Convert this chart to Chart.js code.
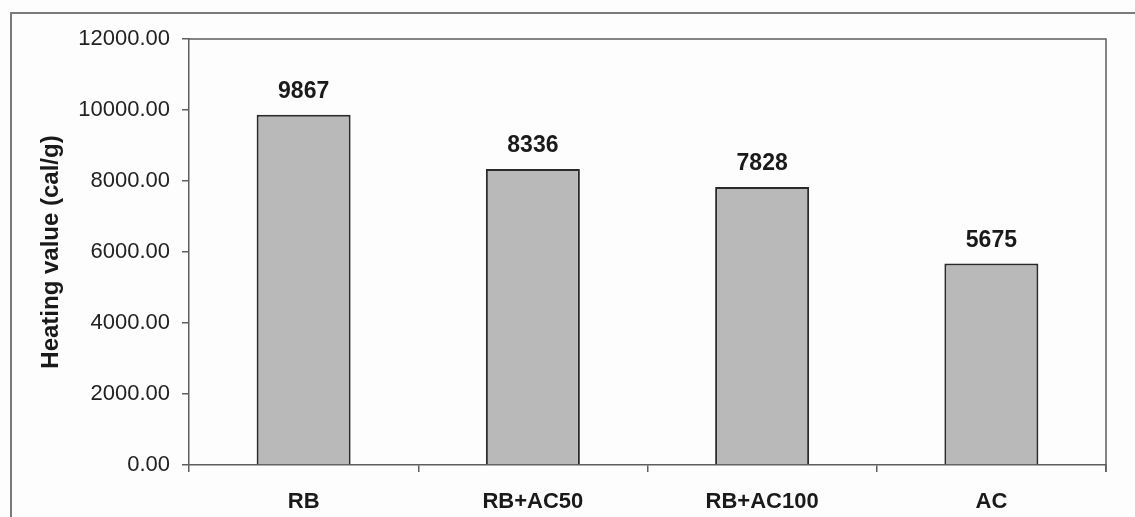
<!DOCTYPE html>
<html>
<head>
<meta charset="utf-8">
<script src="https://cdn.jsdelivr.net/npm/chart.js@4.4.1/dist/chart.umd.min.js"></script>
<style>
  html, body { margin: 0; padding: 0; background: #fdfdfd; }
  #wrap { width: 1135px; height: 517px; position: relative; }
</style>
</head>
<body>
<div id="wrap"><canvas id="c" width="1135" height="517"></canvas></div>
<script>
// Heating value of each sample (cal/g)
const categories = ['RB', 'RB+AC50', 'RB+AC100', 'AC'];
const heatingValues = [9867, 8336, 7828, 5675];
const yTicks = [0, 2000, 4000, 6000, 8000, 10000, 12000];
const yTitle = 'Heating value (cal/g)';

const FONT = '"Liberation Sans", Arial, sans-serif';

// Outer frame and the box around the plot area
const framePlugin = {
  id: 'frames',
  beforeDraw(chart) {
    const ctx = chart.ctx;
    ctx.save();
    ctx.fillStyle = '#fdfdfd';
    ctx.fillRect(0, 0, chart.width, chart.height);
    ctx.strokeStyle = '#7a7a7a';
    ctx.lineWidth = 2;
    ctx.beginPath();
    ctx.moveTo(11, chart.height + 2);
    ctx.lineTo(11, 13);
    ctx.lineTo(chart.width + 2, 13);
    ctx.stroke();
    ctx.restore();
  },
  afterDraw(chart) {
    const a = chart.chartArea;
    const ctx = chart.ctx;
    ctx.save();
    ctx.strokeStyle = '#5e5e5e';
    ctx.lineWidth = 1.5;
    ctx.beginPath();
    ctx.moveTo(a.left, a.top);
    ctx.lineTo(a.right, a.top);
    ctx.lineTo(a.right, a.bottom + 7);
    ctx.stroke();
    ctx.restore();
  }
};

// Value labels above each bar
const valueLabelPlugin = {
  id: 'valueLabels',
  afterDatasetsDraw(chart) {
    const ctx = chart.ctx;
    const meta = chart.getDatasetMeta(0);
    ctx.save();
    ctx.font = 'bold 23px ' + FONT;
    ctx.fillStyle = '#1a1a1a';
    ctx.textAlign = 'center';
    ctx.textBaseline = 'alphabetic';
    meta.data.forEach((bar, i) => {
      ctx.fillText(String(heatingValues[i]), bar.x, bar.y - 17);
    });
    ctx.restore();
  }
};

new Chart(document.getElementById('c'), {
  type: 'bar',
  data: {
    labels: categories,
    datasets: [{
      data: heatingValues,
      backgroundColor: '#b9b9b9',
      borderColor: '#2a2a2a',
      borderWidth: 2,
      borderSkipped: 'bottom',
      categoryPercentage: 1.0,
      barPercentage: 0.41
    }]
  },
  options: {
    responsive: false,
    animation: false,
    devicePixelRatio: 1,
    layout: { padding: { left: 0, top: 39, right: 29, bottom: 0 } },
    plugins: {
      legend: { display: false },
      tooltip: { enabled: false }
    },
    scales: {
      x: {
        grid: {
          display: true,
          drawOnChartArea: false,
          drawTicks: true,
          tickLength: 7,
          color: '#5e5e5e',
          lineWidth: 1.5
        },
        border: { display: true, color: '#5e5e5e', width: 1.5 },
        ticks: {
          color: '#1a1a1a',
          padding: 17,
          font: { family: FONT, size: 22, weight: 'bold' }
        },
        afterFit(scale) { scale.height = 52; }
      },
      y: {
        min: 0,
        max: 12000,
        afterBuildTicks(scale) {
          scale.ticks = yTicks.map(v => ({ value: v }));
        },
        grid: {
          display: true,
          drawOnChartArea: false,
          drawTicks: true,
          tickLength: 7,
          color: '#5e5e5e',
          lineWidth: 1.5
        },
        border: { display: true, color: '#5e5e5e', width: 1.5 },
        ticks: {
          color: '#222',
          padding: 12,
          font: { family: FONT, size: 22 },
          callback: v => Number(v).toFixed(2)
        },
        title: {
          display: true,
          text: yTitle,
          color: '#1a1a1a',
          padding: { top: 37, bottom: 0 },
          font: { family: FONT, size: 24, weight: 'bold' }
        },
        afterFit(scale) { scale.width = 189; }
      }
    }
  },
  plugins: [framePlugin, valueLabelPlugin]
});
</script>
</body>
</html>
